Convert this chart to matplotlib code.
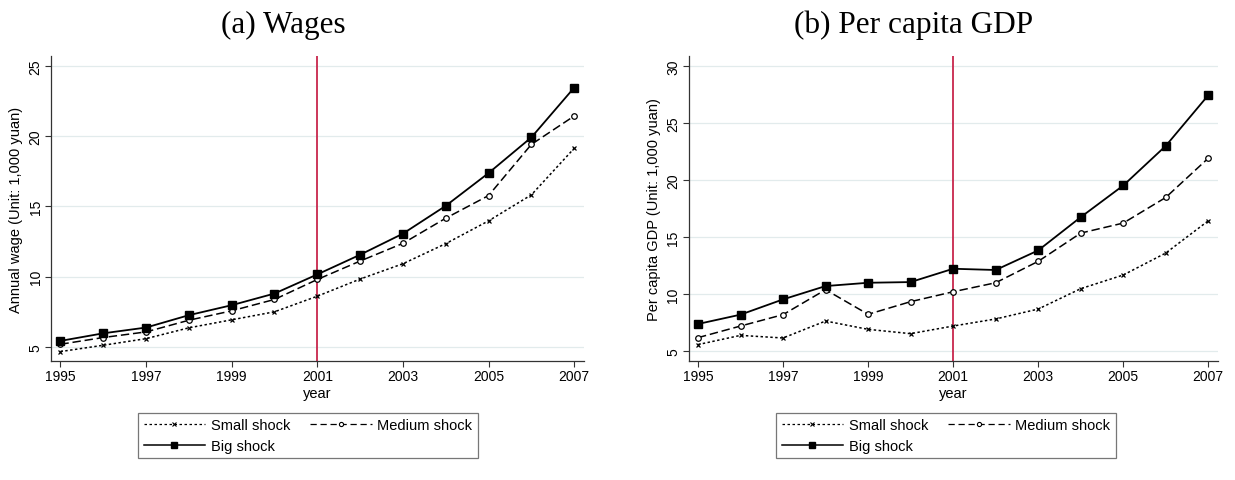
import matplotlib
matplotlib.use('Agg')
import matplotlib.pyplot as plt
from matplotlib.lines import Line2D

plt.rcParams['font.family'] = ['Liberation Sans', 'DejaVu Sans']

# Данные: годы и три сценария шока
years = list(range(1995, 2008))

wage_small = [4.67, 5.12, 5.59, 6.36, 6.93, 7.50, 8.61, 9.83, 10.92, 12.35, 13.97, 15.82, 19.13]
wage_medium = [5.19, 5.67, 6.07, 6.90, 7.57, 8.38, 9.80, 11.11, 12.37, 14.16, 15.77, 19.41, 21.43]
wage_big = [5.43, 5.97, 6.38, 7.26, 7.97, 8.80, 10.16, 11.56, 13.06, 15.04, 17.37, 19.91, 23.45]

gdp_small = [5.56, 6.37, 6.14, 7.63, 6.90, 6.52, 7.19, 7.81, 8.68, 10.47, 11.67, 13.60, 16.43]
gdp_medium = [6.17, 7.19, 8.19, 10.38, 8.22, 9.33, 10.20, 10.99, 12.87, 15.35, 16.23, 18.48, 21.93]
gdp_big = [7.37, 8.19, 9.53, 10.70, 10.99, 11.05, 12.22, 12.11, 13.83, 16.75, 19.53, 23.01, 27.46]

labels = ['Small shock', 'Medium shock', 'Big shock']
year_ticks = [1995, 1997, 1999, 2001, 2003, 2005, 2007]
shock_year = 2001

styles = [
    dict(color='black', lw=1.1, ls=(0, (1.6, 1.6)), marker='x', ms=3, mew=0.9),
    dict(color='black', lw=1.1, ls=(0, (5.5, 2.5)), marker='o', ms=4, mfc='white', mew=0.9),
    dict(color='black', lw=1.3, ls='-', marker='s', ms=5.8),
]


def draw_panel(ax, series, yticks, ylim, ylabel):
    for vals, st in zip(series, styles):
        ax.plot(years, vals, **st)
    ax.axvline(shock_year, color='#c8264c', lw=1.3, zorder=1)
    ax.set_xlim(1994.78, 2007.23)
    ax.set_ylim(*ylim)
    ax.set_xticks(year_ticks)
    ax.set_yticks(yticks)
    ax.grid(axis='y', color='#e2ebec', lw=0.9)
    ax.set_axisbelow(True)
    for s in ['top', 'right']:
        ax.spines[s].set_visible(False)
    for s in ['left', 'bottom']:
        ax.spines[s].set_color('#333333')
        ax.spines[s].set_linewidth(0.9)
    ax.tick_params(axis='both', labelsize=10, length=4, width=0.8,
                   color='#333333', pad=2)
    for t in ax.get_yticklabels():
        t.set_rotation(90)
        t.set_va('center')
    ax.set_ylabel(ylabel, fontsize=10.5, labelpad=4)
    ax.set_xlabel('year', fontsize=10.5, labelpad=2)


fig = plt.figure(figsize=(12.35, 4.81), dpi=100)
ax1 = fig.add_axes([0.0413, 0.2474, 0.4316, 0.6341])
ax2 = fig.add_axes([0.5576, 0.2474, 0.4287, 0.6341])

draw_panel(ax1, [wage_small, wage_medium, wage_big], [5, 10, 15, 20, 25],
           (4.0, 25.7), 'Annual wage (Unit: 1,000 yuan)')
draw_panel(ax2, [gdp_small, gdp_medium, gdp_big], [5, 10, 15, 20, 25, 30],
           (4.12, 30.9), 'Per capita GDP (Unit: 1,000 yuan)')

fig.text(0.229, 0.948, '(a) Wages', fontsize=22.5, family='Liberation Serif',
         ha='center', va='center')
fig.text(0.740, 0.948, '(b) Per capita GDP', fontsize=22.5, family='Liberation Serif',
         ha='center', va='center')

# Легенда: порядок задаёт расположение по столбцам
handles = [
    Line2D([], [], color='black', lw=0.9, ls=(0, (2, 2)), marker='x', ms=2.5, mew=0.8),
    Line2D([], [], color='black', lw=1.1, ls='-', marker='s', ms=4),
    Line2D([], [], color='black', lw=0.9, ls=(0, (5, 3)), marker='o', ms=3, mfc='white', mew=0.8),
]
leg_labels = [labels[0], labels[2], labels[1]]
for cx in (0.2494, 0.766):
    leg = fig.legend(handles, leg_labels, ncol=2, loc='upper center',
                     bbox_to_anchor=(cx, 0.1394), fontsize=10.5, frameon=True,
                     fancybox=False, edgecolor='#555555', handlelength=4.2,
                     handletextpad=0.4, columnspacing=1.4, borderpad=0.35,
                     labelspacing=0.45, borderaxespad=0)
    leg.get_frame().set_linewidth(0.9)

fig.savefig('out.png', dpi=100)
